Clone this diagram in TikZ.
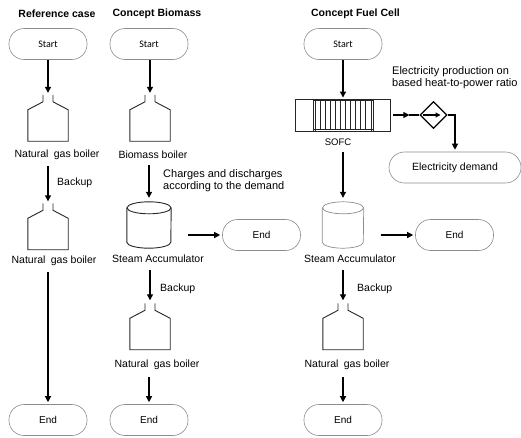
\documentclass[tikz,border=0pt]{standalone}
\usepackage{fontspec}
\setmainfont{Liberation Sans}
\newfontfamily\calib{Carlito}
\usetikzlibrary{arrows.meta,shapes.geometric,calc}
\newcommand\boilershape[1]{\draw[shapeline] ([xshift=-5pt]#1.north) -- ([xshift=-5pt,yshift=-7pt]#1.north) -- ([yshift=-15pt]#1.north west) -- (#1.south west) -- (#1.south east) -- ([yshift=-15pt]#1.north east) -- ([xshift=5pt,yshift=-7pt]#1.north) -- ([xshift=5pt]#1.north);}
\newcommand\cylshape[3]{\draw[shapeline,#3] ([yshift=-6pt]#1.north west) -- ([yshift=6pt]#1.south west) arc[start angle=180,end angle=360,x radius=#2,y radius=6pt] -- ([yshift=-6pt]#1.north east);
\draw[shapeline,#3] ([yshift=-6pt]#1.north) ellipse[x radius=#2,y radius=6pt];}
\begin{document}
\begin{tikzpicture}[x=1pt,y=-1pt,
 term/.style={draw=black!45, line width=0.6pt, rounded corners=15pt, minimum width=78pt, minimum height=31pt, inner sep=0pt, font=\fontsize{10}{12}\selectfont},
 lbl/.style={inner sep=0pt, font=\fontsize{10.5}{12}\selectfont},
 note/.style={inner sep=0pt, align=left, font=\fontsize{11}{11.8}\selectfont},
 ttl/.style={inner sep=0pt, font=\fontsize{10.5}{12}\selectfont\bfseries},
 arr/.style={-{Triangle[length=6pt,width=6pt]}, line width=1.2pt},
 shapeline/.style={line width=0.9pt, draw=black!85},
 box/.style={inner sep=0pt, minimum width=40pt, minimum height=46pt}]
\useasboundingbox (0,0) rectangle (521,437);
% titles
\node[ttl] (t1) at (57,13.5) {Reference case};
\node[ttl] (t2) at (157,13.5) {Concept Biomass};
\node[ttl] (t3) at (355.5,13.5) {Concept Fuel Cell};
% column 1
\node[term] (s1) at (48,44) {\calib Start};
\node[box] (b1) at (48,118) {};
\boilershape{b1}
\draw[arr] (s1.south -| b1.north) -- ([yshift=2pt]b1.north);
\node[lbl] (l1) at (57,155) {Natural\hspace{2.5pt} gas boiler};
\node[lbl,anchor=west] (bk1) at (57,183) {Backup};
\node[box] (b2) at (48,226.5) {};
\boilershape{b2}
\draw[arr] ([yshift=-6pt]l1.south -| b2.north) -- ([yshift=2pt]b2.north);
\node[lbl] (l2) at (54,261) {Natural\hspace{2.5pt} gas boiler};
\node[term] (e1) at (48,420) {End};
\draw[arr] ([yshift=-6pt]l2.south -| e1.north) -- ([yshift=2pt]e1.north);
% column 2
\node[term] (s2) at (149,44) {\calib Start};
\node[box] (b3) at (150,118) {};
\boilershape{b3}
\draw[arr] (s2.south -| b3.north) -- ([yshift=2pt]b3.north);
\node[lbl] (l3) at (153,155) {Biomass boiler};
\node[box,minimum width=44pt] (c1) at (149,225) {};
\cylshape{c1}{22pt}{}
\draw[arr] ([yshift=-6pt]l3.south -| c1.north) -- ([yshift=4pt]c1.north);
\node[note,anchor=west] (n1) at (163,181) {Charges and discharges\\according to the demand};
\node[lbl] (l4) at (158,259) {Steam Accumulator};
\node[term] (e2) at (261.5,235) {End};
\draw[arr] ($(c1.east |- e2.west)+(17,0)$) -- ([xshift=-2pt]e2.west);
\node[box] (b4) at (150,326.5) {};
\boilershape{b4}
\draw[arr] ([yshift=-7pt]l4.south -| b4.north) -- ([yshift=3pt]b4.north);
\node[lbl,anchor=west] (bk2) at (160,289) {Backup};
\node[lbl] (l5) at (157,365) {Natural\hspace{2.5pt} gas boiler};
\node[term] (e3) at (149,420) {End};
\draw[arr] ([yshift=-7pt]l5.south -| e3.north) -- ([yshift=2pt]e3.north);
% column 3
\node[term] (s3) at (343,44) {\calib Start};
\node[draw, shapeline, minimum width=95pt, minimum height=32pt, inner sep=0pt] (sofc) at (343,115) {};
\foreach \d in {18pt,20pt} {
  \draw[shapeline] ([xshift=\d]sofc.north west) -- ([xshift=\d]sofc.south west);
  \draw[shapeline] ([xshift=-\d]sofc.north east) -- ([xshift=-\d]sofc.south east);
}
\draw[shapeline] ([xshift=18pt,yshift=-2pt]sofc.north west) -- ([xshift=-18pt,yshift=-2pt]sofc.north east);
\draw[shapeline] ([xshift=18pt,yshift=2pt]sofc.south west) -- ([xshift=-18pt,yshift=2pt]sofc.south east);
\foreach \i in {1,...,10} {
  \draw[shapeline] ([xshift={20pt+\i*5pt},yshift=-2pt]sofc.north west) -- ([xshift={20pt+\i*5pt},yshift=2pt]sofc.south west);
}
\draw[arr] (s3.south -| sofc.north) -- ([yshift=1pt]sofc.north);
\node[lbl,font=\fontsize{9.5}{11}\selectfont] (l6) at (338,142) {SOFC};
\node[draw, diamond, line width=1.2pt, minimum width=27pt, minimum height=27pt, inner sep=0pt] (dia) at (433.5,115) {};
\draw[arr] ([xshift=2pt]sofc.east) -- ([xshift=-10pt]dia.west);
\draw[line width=1.2pt] ([xshift=-10pt]dia.west) -- (dia.west);
\draw[-{Triangle[length=5pt,width=5pt]}, line width=1.1pt] ([xshift=-11pt]dia.center) -- ([xshift=7pt]dia.center);
\node[term, minimum width=132pt, rounded corners=15.5pt] (dem) at (455,167.5) {\fontsize{10.5}{12}\selectfont Electricity demand};
\draw[arr] (dia.east) -- (dem.north |- dia.east) -- ([yshift=2pt]dem.north);
\node[note,anchor=west] (n2) at (392,77.5) {Electricity production on\\based heat-to-power ratio};
\node[box,minimum width=41pt] (c2) at (343,225) {};
\cylshape{c2}{20.5pt}{draw=black!45,line width=0.7pt}
\draw[arr] ([yshift=-6pt]l6.south -| c2.north) -- ([yshift=4pt]c2.north);
\node[lbl] (l7) at (350,259) {Steam Accumulator};
\node[term] (e4) at (454.5,235) {End};
\draw[arr] ($(c2.east |- e4.west)+(17,0)$) -- ([xshift=-2pt]e4.west);
\node[box] (b5) at (343,326.5) {};
\boilershape{b5}
\draw[arr] ([yshift=-7pt]l7.south -| b5.north) -- ([yshift=3pt]b5.north);
\node[lbl,anchor=west] (bk3) at (357,289) {Backup};
\node[lbl] (l8) at (347,365) {Natural\hspace{2.5pt} gas boiler};
\node[term] (e5) at (343,420) {End};
\draw[arr] ([yshift=-7pt]l8.south -| e5.north) -- ([yshift=2pt]e5.north);
\end{tikzpicture}
\end{document}
